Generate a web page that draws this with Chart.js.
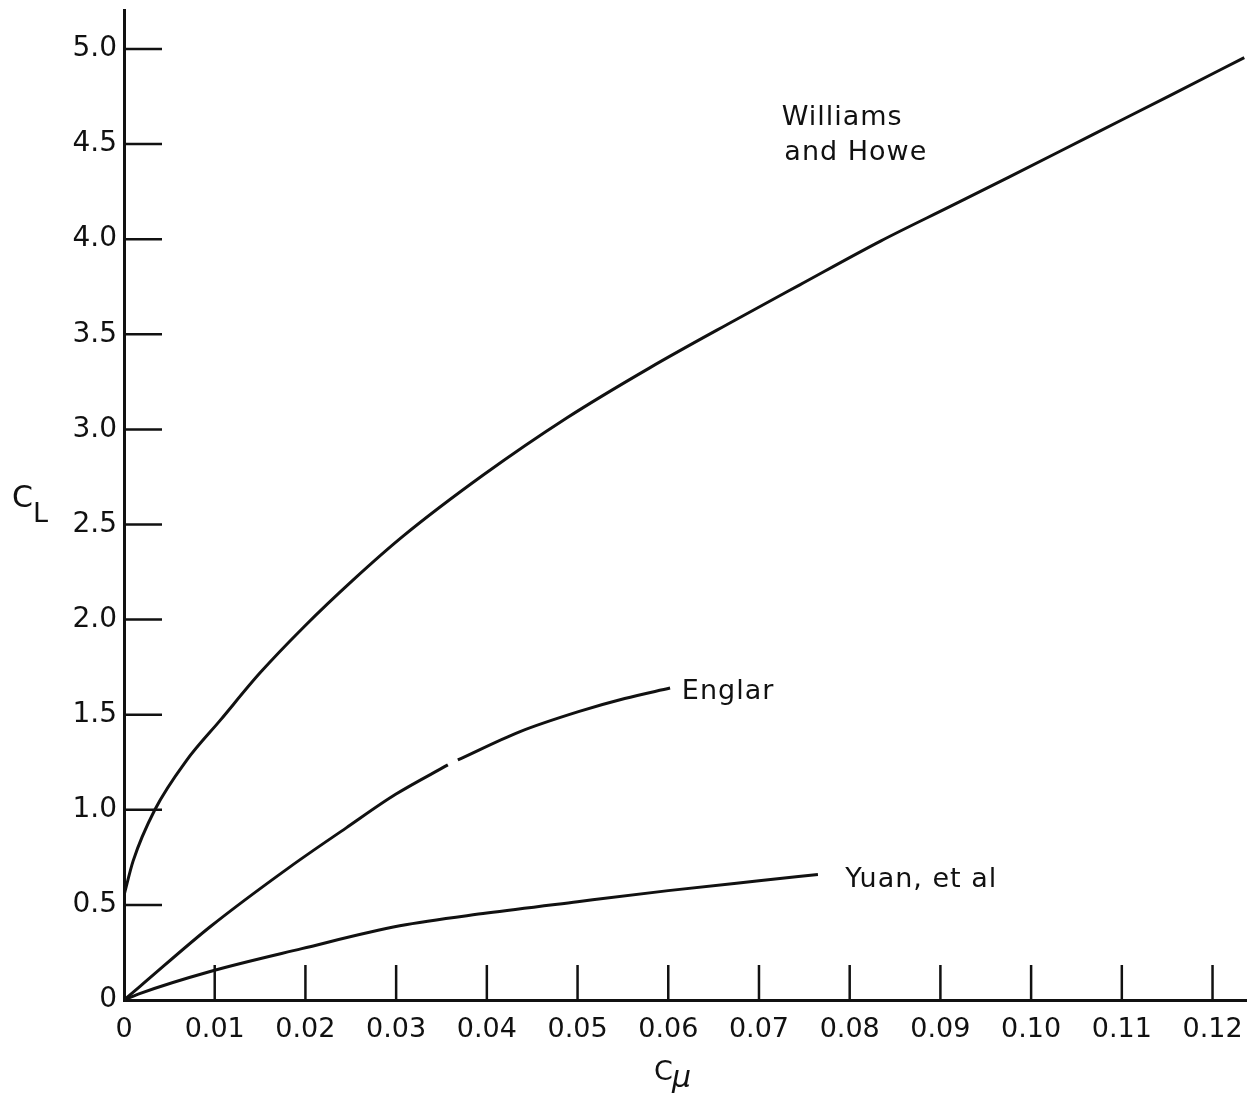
<!DOCTYPE html>
<html>
<head>
<meta charset="utf-8">
<script src="https://cdn.jsdelivr.net/npm/chart.js@4.4.1/dist/chart.umd.min.js"></script>
<style>
  html, body { margin: 0; padding: 0; background: #fff; }
  canvas { display: block; }
</style>
</head>
<body>
<canvas id="grafico" width="1247" height="1098"></canvas>
<script>
// Tick values and labels of both axes
const xTicks = [0, 0.01, 0.02, 0.03, 0.04, 0.05, 0.06, 0.07, 0.08, 0.09, 0.10, 0.11, 0.12];
const xTickLabels = ['0', '0.01', '0.02', '0.03', '0.04', '0.05', '0.06', '0.07', '0.08', '0.09', '0.10', '0.11', '0.12'];
const yTicks = [0, 0.5, 1.0, 1.5, 2.0, 2.5, 3.0, 3.5, 4.0, 4.5, 5.0];
const yTickLabels = ['0', '0.5', '1.0', '1.5', '2.0', '2.5', '3.0', '3.5', '4.0', '4.5', '5.0'];

// Curves: C_mu -> C_L
const williamsCmu = [0, 0.001, 0.0034, 0.0069, 0.0106, 0.015, 0.0198, 0.0253, 0.0308, 0.0396, 0.0488, 0.058, 0.0672, 0.0745, 0.0834, 0.0912, 0.0975, 0.1068, 0.1153, 0.1235];
const williamsCl  = [0.55, 0.73, 1.0, 1.26, 1.47, 1.72, 1.96, 2.21, 2.44, 2.76, 3.06, 3.325, 3.57, 3.76, 3.99, 4.175, 4.325, 4.55, 4.755, 4.955];

// null = the small break in the drawn line
const englarCmu = [0, 0.0018, 0.0095, 0.0183, 0.0245, 0.0299, 0.0357, 0.0362, 0.0368, 0.0436, 0.0501, 0.0552, 0.0602];
const englarCl  = [0, 0.073, 0.385, 0.70, 0.905, 1.08, 1.236, null, 1.262, 1.41, 1.516, 1.585, 1.64];

const yuanCmu = [0, 0.0018, 0.0095, 0.0196, 0.0304, 0.04, 0.05, 0.06, 0.07, 0.0765];
const yuanCl  = [0, 0.035, 0.15, 0.27, 0.39, 0.457, 0.517, 0.575, 0.627, 0.66];

const fonte = 'DejaVu Sans';
const tinta = '#111';

// Curve names, anchored in data units (left edge, baseline)
const notas = [
  { texto: 'Williams', cmu: 0.0725, cl: 4.60 },
  { texto: 'and Howe', cmu: 0.0728, cl: 4.416 },
  { texto: 'Englar', cmu: 0.0615, cl: 1.583 },
  { texto: 'Yuan, et al', cmu: 0.0795, cl: 0.594 }
];

function pares(xs, ys) {
  return xs.map((v, i) => ({ x: v, y: ys[i] }));
}

function serie(xs, ys) {
  return {
    data: pares(xs, ys),
    borderColor: tinta,
    borderWidth: 3,
    pointRadius: 0,
    fill: false,
    spanGaps: false,
    cubicInterpolationMode: 'monotone'
  };
}

// Tick marks point into the plot, like the original drawing
const ticksInternos = {
  id: 'ticksInternos',
  afterDatasetsDraw(chart) {
    const { ctx, scales: { x, y } } = chart;
    ctx.save();
    ctx.strokeStyle = tinta;
    ctx.lineWidth = 2.5;
    x.ticks.forEach((t) => {
      if (t.value === 0) return;
      const px = x.getPixelForValue(t.value);
      ctx.beginPath();
      ctx.moveTo(px, y.bottom);
      ctx.lineTo(px, y.bottom - 35);
      ctx.stroke();
    });
    y.ticks.forEach((t) => {
      if (t.value === 0) return;
      const py = y.getPixelForValue(t.value);
      ctx.beginPath();
      ctx.moveTo(x.left, py);
      ctx.lineTo(x.left + 38, py);
      ctx.stroke();
    });
    ctx.restore();
  }
};

// Curve names and the axis titles with subscripts
const textos = {
  id: 'textos',
  afterDraw(chart) {
    const { ctx, scales: { x, y } } = chart;
    ctx.save();
    ctx.fillStyle = tinta;
    ctx.textBaseline = 'alphabetic';
    ctx.textAlign = 'left';
    ctx.letterSpacing = '1px';
    ctx.font = `27px "${fonte}"`;
    notas.forEach((n) => {
      ctx.fillText(n.texto, x.getPixelForValue(n.cmu), y.getPixelForValue(n.cl));
    });
    ctx.letterSpacing = '0px';

    // C_L
    ctx.font = `30px "${fonte}"`;
    ctx.fillText('C', 12, 507);
    ctx.font = `27px "${fonte}"`;
    ctx.fillText('L', 33, 522);

    // C_mu
    ctx.font = `27px "${fonte}"`;
    ctx.fillText('C', 654, 1080);
    ctx.font = `italic 30px "${fonte}"`;
    ctx.fillText('\u03bc', 672, 1087);
    ctx.restore();
  }
};

const ctx = document.getElementById('grafico').getContext('2d');
const grafico = new Chart(ctx, {
  type: 'line',
  data: {
    datasets: [
      serie(williamsCmu, williamsCl),
      serie(englarCmu, englarCl),
      serie(yuanCmu, yuanCl)
    ]
  },
  options: {
    responsive: false,
    animation: false,
    events: [],
    layout: { padding: { top: 10, right: 0, left: 0, bottom: 0 } },
    plugins: {
      legend: { display: false },
      tooltip: { enabled: false }
    },
    scales: {
      x: {
        type: 'linear',
        min: 0,
        max: 0.1238,
        afterFit(scale) {
          scale.height = 98;
          scale.paddingLeft = 0;
          scale.paddingRight = 0;
        },
        afterBuildTicks(scale) { scale.ticks = xTicks.map((v) => ({ value: v })); },
        grid: { display: false, drawTicks: false },
        border: { display: true, color: tinta, width: 3 },
        ticks: {
          autoSkip: false,
          maxRotation: 0,
          padding: 14,
          color: tinta,
          font: { family: fonte, size: 27 },
          callback: (v, i) => xTickLabels[i]
        }
      },
      y: {
        type: 'linear',
        min: 0,
        max: 5.205,
        afterFit(scale) {
          scale.width = 124;
          scale.paddingTop = 0;
          scale.paddingBottom = 0;
        },
        afterBuildTicks(scale) { scale.ticks = yTicks.map((v) => ({ value: v })); },
        grid: { display: false, drawTicks: false },
        border: { display: true, color: tinta, width: 3 },
        ticks: {
          autoSkip: false,
          padding: 7,
          color: tinta,
          font: { family: fonte, size: 28 },
          callback: (v, i) => yTickLabels[i]
        }
      }
    }
  },
  plugins: [ticksInternos, textos]
});
</script>
</body>
</html>
